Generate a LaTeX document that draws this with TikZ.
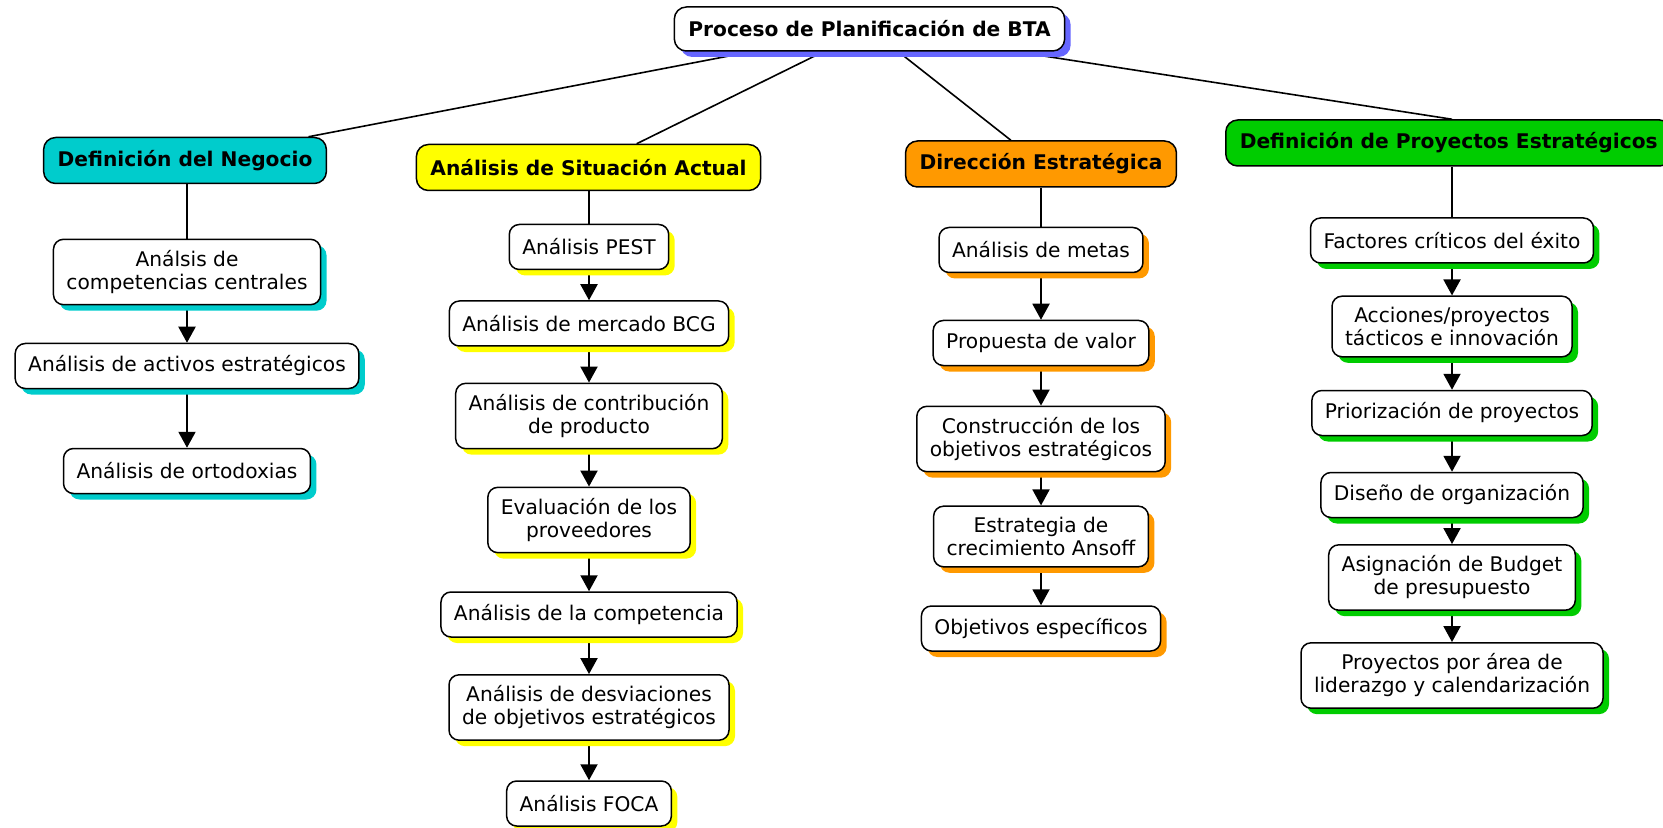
\documentclass[tikz,border=0pt]{standalone}
\usepackage{fontspec}
\setmainfont{DejaVu Sans}
\usetikzlibrary{arrows.meta,shadows,backgrounds}

\definecolor{negocio}{RGB}{0,204,204}
\definecolor{situacion}{RGB}{255,255,0}
\definecolor{direccion}{RGB}{255,153,0}
\definecolor{proyectos}{RGB}{0,204,0}
\definecolor{proceso}{RGB}{102,102,255}

\tikzstyle{rootbox}=[
    draw,
    line width=0.75pt,
    rounded corners=6pt,
    fill=white,
    minimum height=22pt,
    inner xsep=7pt,
    font=\fontsize{10.1}{11.5}\selectfont\bfseries,
    drop shadow={fill=proceso, opacity=1, shadow xshift=3pt, shadow yshift=-3pt},
  ]
\tikzstyle{headbox}=[
    draw,
    line width=0.75pt,
    rounded corners=6pt,
    minimum height=23pt,
    inner xsep=7pt,
    font=\fontsize{10.1}{11.5}\selectfont\bfseries,
  ]
\tikzstyle{stepbox}=[
    draw,
    line width=0.75pt,
    rounded corners=5pt,
    fill=white,
    align=center,
    minimum height=22.5pt,
    inner xsep=6.5pt,
    inner ysep=5.5pt,
    font=\fontsize{10.1}{11.5}\selectfont,
  ]
\tikzset{castshadow/.style={
    drop shadow={fill=#1, opacity=1, shadow xshift=3pt, shadow yshift=-3pt}}}
\tikzstyle{link}=[
    line width=0.8pt,
  ]
\tikzstyle{dep}=[
    -{Triangle[width=8.5pt,length=8pt]},
    line width=1pt,
  ]

\begin{document}
\begin{tikzpicture}[x=0.5pt, y=-0.5pt]
      \useasboundingbox (0,0) rectangle (1663,828);
      \node[rootbox] (proceso) at (869.5,29) {Proceso de Planificación de BTA};
      \node[headbox, fill=negocio] (negocio) at (185,160.5) {Definición del Negocio};
      \node[headbox, fill=situacion] (situacion) at (588.5,167.5) {Análisis de Situación Actual};
      \node[headbox, fill=direccion] (direccion) at (1041,164) {Dirección Estratégica};
      \node[headbox, fill=proyectos, anchor=west] (proyectos) at (1225,143) {Definición de Proyectos Estratégicos};
      \foreach \t/\y [count=\i] in {Análsis de\\competencias centrales/272,
          Análisis de activos estratégicos/366, Análisis de ortodoxias/471} {%
        \node[stepbox, castshadow=negocio] (n\i) at (187,\y) {\t};
      }
      \foreach \t/\y [count=\i] in {Análisis PEST/247, Análisis de mercado BCG/323.5,
          Análisis de contribución\\de producto/416, Evaluación de los\\proveedores/520,
          Análisis de la competencia/614.5, Análisis de desviaciones\\de objetivos estratégicos/707.5,
          Análisis FOCA/803.5} {%
        \node[stepbox, castshadow=situacion] (s\i) at (589,\y) {\t};
      }
      \foreach \t/\y [count=\i] in {Análisis de metas/250, Propuesta de valor/343,
          Construcción de los\\objetivos estratégicos/439, Estrategia de\\crecimiento Ansoff/536.5,
          Objetivos específicos/628.5} {%
        \node[stepbox, castshadow=direccion] (d\i) at (1041,\y) {\t};
      }
      \foreach \t/\y [count=\i] in {Factores críticos del éxito/240.5,
          {Acciones/proyectos\\tácticos e innovación}/326.5, Priorización de proyectos/413,
          Diseño de organización/495, Asignación de Budget\\de presupuesto/577.5,
          Proyectos por área de\\liderazgo y calendarización/675.5} {%
        \node[stepbox, castshadow=proyectos] (p\i) at (1452,\y) {\t};
      }
      \begin{scope}[on background layer]
        \draw[link] (proceso) -- (negocio);
        \draw[link] (proceso) -- (situacion);
        \draw[link] (proceso) -- (direccion);
        \draw[link] (proceso) -- (proyectos.north -| p1);
        \draw[link] (negocio.south -| n1) -- (n1);
        \draw[link] (situacion.south -| s1) -- (s1);
        \draw[link] (direccion.south -| d1) -- (d1);
        \draw[link] (proyectos.south -| p1) -- (p1);
        \foreach \i [count=\j from 2] in {1, 2} {\draw[dep] (n\i) -- (n\j);}
        \foreach \i [count=\j from 2] in {1, ..., 6} {\draw[dep] (s\i) -- (s\j);}
        \foreach \i [count=\j from 2] in {1, ..., 4} {\draw[dep] (d\i) -- (d\j);}
        \foreach \i [count=\j from 2] in {1, ..., 5} {\draw[dep] (p\i) -- (p\j);}
      \end{scope}
    \end{tikzpicture}
\end{document}
